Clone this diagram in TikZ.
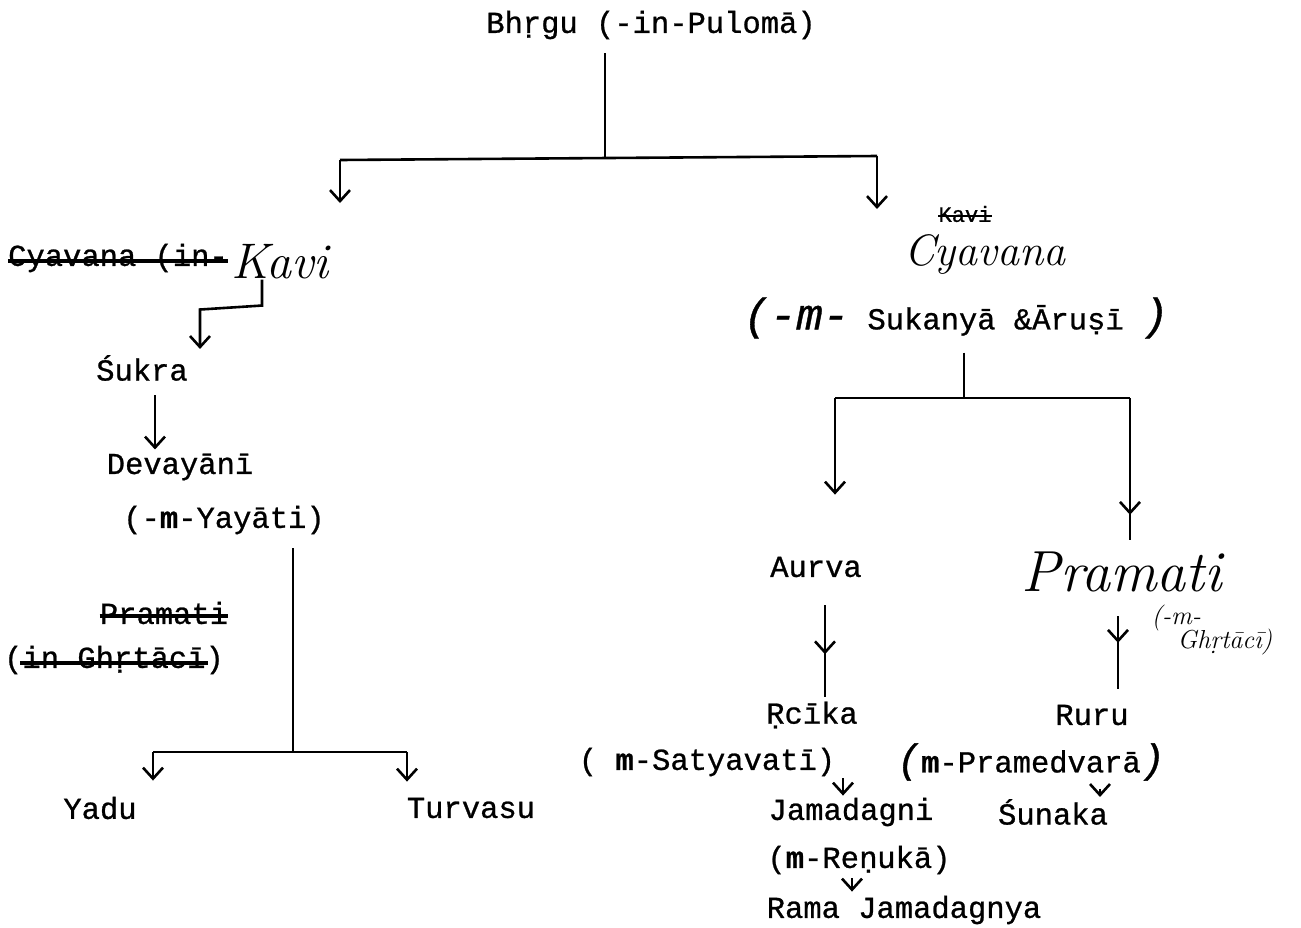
\documentclass[tikz,border=0pt]{standalone}
\usepackage{fontspec}
\newfontfamily\twfont[FakeBold=0.8]{Liberation Mono}
\usetikzlibrary{arrows.meta,decorations.markings}
\tikzset{
  tw/.style={font=\twfont\fontsize{30.5}{34}\selectfont, inner sep=0pt},
  twsmall/.style={font=\twfont\fontsize{22}{24}\selectfont, inner sep=0pt},
  hw/.style={font=\itshape\fontsize{#1}{#1}\selectfont, inner sep=0pt},
  link/.style={line width=2.6pt},
  arr/.style={line width=2.6pt, -{Straight Barb[length=11pt,width=20pt]}},
  midarr/.style={line width=2.6pt, postaction={decorate},
    decoration={markings, mark=at position #1 with {\arrow[line width=2.6pt]{Straight Barb[length=11pt,width=20pt]}}}},
  strike/.style={line width=3.5pt},
}
\newcommand{\hwm}{{\bfseries m}}
\begin{document}
\begin{tikzpicture}[x=1pt,y=-1pt]
\useasboundingbox (0,0) rectangle (1301,927);

% ---------- top ----------
\node[tw] (bhrgu) at (651,25) {Bhṛgu (-in-Pulomā)};
\coordinate (j1) at (605,158);
\coordinate (jL) at (340,160);
\coordinate (jR) at (877,156);
\coordinate (aL) at (340,203);
\coordinate (aR) at (877,209);
\draw[link, shorten <=14pt] (bhrgu.south -| j1) -- (j1);
\draw[link] (jL) -- (jR);
\draw[arr] (jL) -- (aL);
\draw[arr] (jR) -- (aR);

% ---------- left column ----------
\node[tw] (cyx) at (118,258) {Cyavana (in-};
\draw[strike] ([yshift=-3pt]cyx.west) -- ([yshift=-3pt]cyx.east);
\node[hw=50] (kavi) at (280,262) {Kavi};

\node[tw] (sukra) at (142,368) {Śukra};
\coordinate (ck) at (262,0);
\coordinate (cs) at (200,0);
\draw[arr] (kavi.south -| ck) -- ++(0,26) -- ++(-62,4) -- ([yshift=6pt]sukra.north -| cs);

\node[tw] (deva) at (180,467) {Devayānī};
\coordinate (c155) at (155,0);
\draw[arr, shorten <=14pt, shorten >=4pt] (sukra.south -| c155) -- (deva.north -| c155);

\node[tw] (yay) at (224,520) {(-\hwm-Yayāti)};
\coordinate (jY) at (293,752);
\coordinate (jYL) at (153,752);
\coordinate (jYR) at (407,752);
\draw[link, shorten <=14pt] (yay.south -| jY) -- (jY);
\draw[link] (jYL) -- (jYR);

\node[tw] (pramx) at (164,613) {Pramati};
\draw[strike] ([yshift=-3pt]pramx.west) -- ([yshift=-3pt]pramx.east);
\node[tw] (ghx) at (114,660) {(in Ghṛtācī)};
\draw[strike] ([xshift=16pt,yshift=-3pt]ghx.west) -- ([xshift=-16pt,yshift=-3pt]ghx.east);

\node[tw] (yadu) at (100,808) {Yadu};
\node[tw] (turv) at (471,808) {Turvasu};
\draw[arr, shorten >=16pt] (jYL) -- (yadu.north -| jYL);
\draw[arr, shorten >=16pt] (jYR) -- (turv.north -| jYR);

% ---------- right column ----------
\node[twsmall] (kavix) at (965,214) {Kavi};
\draw[line width=2.5pt] ([yshift=-2pt]kavix.west) -- ([yshift=-2pt]kavix.east);
\node[hw=44] (cyav) at (985,254) {Cyavana};

\node[tw] (suk) at (956,318) {{\itshape\fontsize{44}{44}\selectfont(-m-}\ Sukanyā \&Āruṣī\ {\itshape\fontsize{44}{44}\selectfont)}};
\coordinate (jC) at (964,398);
\coordinate (jCL) at (835,398);
\coordinate (jCR) at (1130,398);
\draw[link, shorten <=14pt] (suk.south -| jC) -- (jC);
\draw[link] (jCL) -- (jCR);

\node[tw] (aurva) at (816,567) {Aurva};
\node[hw=58] (pram) at (1122,572) {Pramati};
\node[hw=26, align=left] (ghr) at (1212,630) {(-m-\\[-4pt]\quad Ghṛtācī)};
\draw[arr, shorten >=62pt] (jCL) -- (aurva.north -| jCL);
\draw[midarr=0.76, shorten >=12pt] (jCR) -- (pram.north -| jCR);

\node[tw] (rcika) at (812,715) {Ṛcīka};
\node[tw] (ruru) at (1092,715) {Ruru};
\coordinate (c825) at (825,0);
\coordinate (c1118) at (1118,0);
\draw[midarr=0.62, shorten <=28pt, shorten >=4pt] (aurva.south -| c825) -- (rcika.north -| c825);
\draw[midarr=0.45, shorten <=24pt, shorten >=16pt] (pram.south -| c1118) -- (ruru.north -| c1118);

\node[tw] (sat) at (707,762) {( \hwm-Satyavatī)};
\node[tw] (pmd) at (1031,762) {{\itshape\fontsize{40}{40}\selectfont(}\hwm-Pramedvarā{\itshape\fontsize{40}{40}\selectfont)}};

\node[tw] (jam) at (851,812) {Jamadagni};
\node[tw] (sun) at (1053,812) {Śunaka};
\coordinate (c843) at (843,0);
\coordinate (c1100) at (1100,0);
\draw[arr, shorten <=2pt, shorten >=2pt] (sat.south -| c843) -- (jam.north -| c843);
\draw[arr, shorten <=8pt, shorten >=2pt] (pmd.south -| c1100) -- (sun.north -| c1100);

\node[tw] (ren) at (859,860) {(\hwm-Reṇukā)};
\node[tw] (rama) at (904,910) {Rama Jamadagnya};
\coordinate (c852) at (852,0);
\draw[arr, shorten <=4pt, shorten >=4pt] (ren.south -| c852) -- (rama.north -| c852);
\end{tikzpicture}
\end{document}
